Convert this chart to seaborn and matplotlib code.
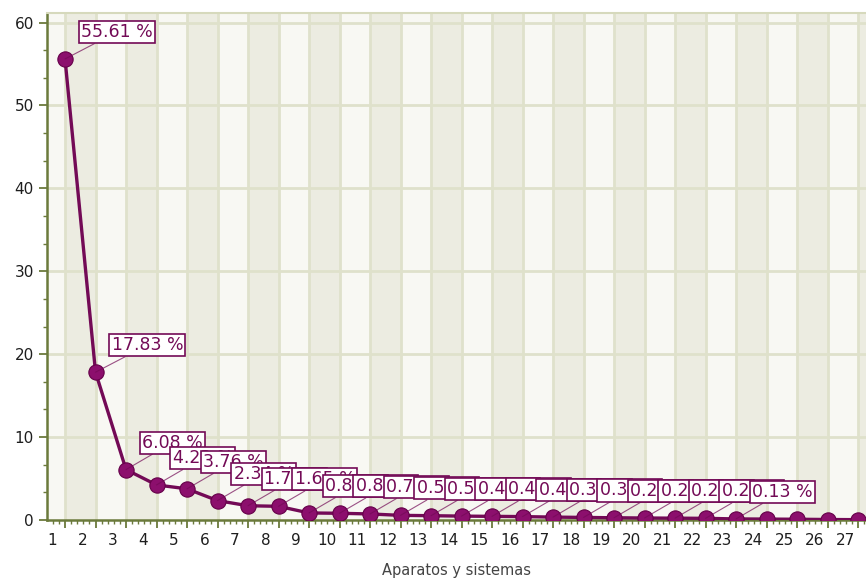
import numpy as np
import pandas as pd
import matplotlib
matplotlib.use("Agg")
import matplotlib.pyplot as plt
import matplotlib.transforms as mtransforms
from matplotlib.ticker import MultipleLocator
import seaborn as sns

# datos
categorias = list(range(1, 28))
porcentajes = [55.61, 17.83, 6.08, 4.23, 3.76, 2.34, 1.72, 1.65, 0.85, 0.81,
               0.73, 0.56, 0.52, 0.47, 0.44, 0.41, 0.35, 0.31, 0.27, 0.24,
               0.22, 0.20, 0.13, 0.11, 0.09, 0.06, 0.04]
etiquetas = [f"{v:.2f} %" for v in porcentajes[:23]] + [None] * 4

df = pd.DataFrame({"sistema": categorias, "pct": porcentajes})

sns.set_style("white")
plt.rcParams['font.family'] = ['DejaVu Sans']

morado = '#730a56'
oliva = '#6b7a3c'
rejilla = '#dfe1cb'

fig = plt.figure(figsize=(8.66, 5.79), dpi=100)
ax = fig.add_axes([0.0543, 0.1019, 0.9457, 0.8756])

ax.set_xlim(0.41, 27.26)
ax.set_ylim(0, 61.15)

# bandas alternas de fondo
ax.axvspan(0.41, 1, color='#f8f8f3', zorder=0, lw=0)
for k in range(1, 28):
    col = '#ecece1' if k % 2 == 1 else '#f8f8f3'
    ax.axvspan(k, k + 1, color=col, zorder=0, lw=0)

for k in categorias:
    ax.axvline(k, color=rejilla, lw=2, zorder=1)
for yv in range(10, 61, 10):
    ax.axhline(yv, color=rejilla, lw=2, zorder=1)

sns.lineplot(data=df, x="sistema", y="pct", ax=ax, color=morado, lw=2.4,
             marker='o', markersize=11, markerfacecolor='#8c0f6d',
             markeredgecolor='#650049', markeredgewidth=0.8, zorder=5)

# etiquetas con caja
for i, (x, y, txt) in enumerate(zip(categorias, porcentajes, etiquetas)):
    if txt is None:
        continue
    ax.annotate(txt, xy=(x, y), xytext=(16, 18), textcoords='offset pixels',
                ha='left', va='bottom', fontsize=12.5, color=morado,
                bbox=dict(boxstyle='square,pad=0.12', fc='white', ec=morado, lw=1.2),
                arrowprops=dict(arrowstyle='-', color=morado, lw=0.8, alpha=0.7,
                                shrinkA=0, shrinkB=0),
                zorder=10 + i, annotation_clip=False)

# ejes
for s in ['left', 'bottom']:
    ax.spines[s].set_color(oliva)
    ax.spines[s].set_linewidth(1.8)
ax.spines['right'].set_visible(False)
ax.spines['top'].set_color('#d6d9bc')
ax.spines['top'].set_linewidth(1.5)

ax.set_xticks(categorias)
ax.set_xticklabels([str(c) for c in categorias])
ax.xaxis.set_minor_locator(MultipleLocator(0.2))
ax.set_yticks(range(0, 61, 10))
ax.yaxis.set_minor_locator(MultipleLocator(10 / 3))
ax.tick_params(axis='both', which='major', length=6, width=1.3, color=oliva,
               labelsize=11, labelcolor='#1e1e1e', direction='out')
ax.tick_params(axis='both', which='minor', length=3, width=1, color=oliva,
               direction='out')
ax.tick_params(axis='x', which='both', bottom=True)
ax.tick_params(axis='y', which='both', left=True)

desplaza = mtransforms.ScaledTranslation(-13 / 100, 0, fig.dpi_scale_trans)
for lab in ax.get_xticklabels():
    lab.set_transform(lab.get_transform() + desplaza)

ax.set_xlabel("Aparatos y sistemas", fontsize=10.5, color='#444444')
ax.xaxis.set_label_coords(0.5, -0.085)
ax.set_ylabel("")
ax.grid(False)

fig.savefig("out.png", dpi=100)
